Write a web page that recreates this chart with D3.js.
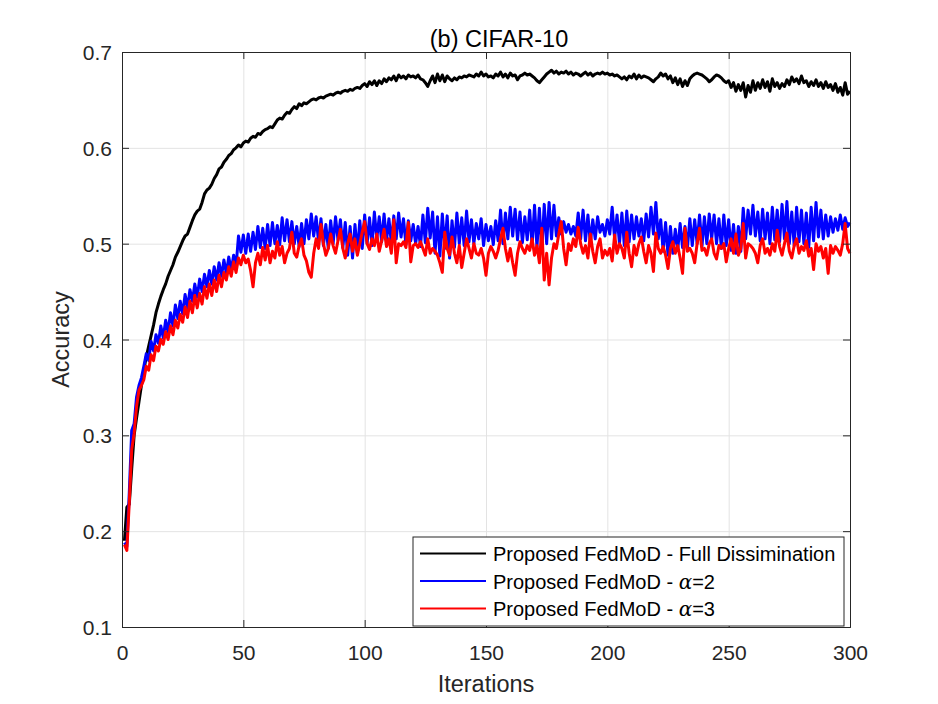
<!DOCTYPE html>
<html>
<head>
<meta charset="utf-8">
<script src="https://cdn.jsdelivr.net/npm/d3@7/dist/d3.min.js"></script>
<style>
  body { margin: 0; background: #fff; }
  text { font-family: "Liberation Sans", Arial, Helvetica, sans-serif; fill: #262626; }
</style>
</head>
<body>
<script>
// tick labels
const xTicks = [0, 50, 100, 150, 200, 250, 300];
const yTicks = [0.1, 0.2, 0.3, 0.4, 0.5, 0.6, 0.7];

const seriesNames = ["Proposed FedMoD - Full Dissimination", "Proposed FedMoD - ", "Proposed FedMoD - "];
const seriesAlpha = [null, "2", "3"];
const seriesColors = ["#000000", "#0000ff", "#ff0000"];

// accuracy per iteration (1..300)
const fullDiss = [
  0.190,0.225,0.228,0.265,0.300,0.318,0.335,0.352,0.368,0.382,
  0.393,0.404,0.415,0.428,0.437,0.445,0.452,0.458,0.466,0.472,
  0.478,0.486,0.491,0.497,0.503,0.508,0.510,0.517,0.524,0.530,
  0.534,0.536,0.543,0.552,0.556,0.558,0.562,0.568,0.572,0.578,
  0.580,0.585,0.588,0.592,0.594,0.598,0.600,0.603,0.601,0.605,
  0.607,0.606,0.610,0.612,0.611,0.615,0.614,0.617,0.619,0.620,
  0.622,0.621,0.625,0.629,0.631,0.630,0.634,0.637,0.636,0.640,
  0.643,0.641,0.646,0.644,0.647,0.646,0.648,0.650,0.651,0.650,
  0.652,0.653,0.652,0.654,0.655,0.656,0.655,0.657,0.658,0.657,
  0.659,0.660,0.659,0.661,0.660,0.662,0.663,0.662,0.665,0.667,
  0.664,0.669,0.666,0.670,0.665,0.670,0.667,0.672,0.669,0.673,
  0.671,0.675,0.670,0.676,0.673,0.675,0.672,0.676,0.674,0.675,
  0.673,0.676,0.672,0.671,0.668,0.664,0.670,0.675,0.668,0.677,
  0.670,0.676,0.669,0.675,0.672,0.670,0.673,0.671,0.674,0.673,
  0.675,0.674,0.676,0.675,0.674,0.677,0.675,0.679,0.675,0.677,
  0.674,0.675,0.673,0.677,0.675,0.679,0.674,0.677,0.673,0.678,
  0.675,0.676,0.671,0.675,0.676,0.678,0.676,0.677,0.675,0.673,
  0.670,0.668,0.671,0.674,0.677,0.679,0.681,0.678,0.680,0.677,
  0.679,0.678,0.680,0.677,0.679,0.676,0.678,0.677,0.675,0.677,
  0.679,0.676,0.678,0.675,0.677,0.678,0.677,0.679,0.677,0.678,
  0.676,0.677,0.675,0.676,0.674,0.672,0.674,0.671,0.675,0.673,
  0.677,0.672,0.676,0.673,0.675,0.674,0.673,0.671,0.669,0.672,
  0.674,0.678,0.675,0.677,0.672,0.675,0.668,0.673,0.666,0.672,
  0.664,0.670,0.665,0.672,0.675,0.677,0.678,0.677,0.676,0.674,
  0.672,0.669,0.671,0.674,0.676,0.675,0.673,0.670,0.668,0.670,
  0.663,0.668,0.659,0.666,0.660,0.668,0.653,0.665,0.658,0.670,
  0.660,0.668,0.662,0.671,0.663,0.669,0.659,0.672,0.664,0.668,
  0.662,0.667,0.664,0.671,0.666,0.674,0.669,0.672,0.667,0.675,
  0.668,0.670,0.664,0.669,0.665,0.671,0.664,0.668,0.662,0.669,
  0.663,0.666,0.660,0.667,0.658,0.663,0.655,0.668,0.656,0.659
];

const alpha2 = [
  0.188,0.184,0.240,0.305,0.312,0.340,0.352,0.360,0.372,0.385,
  0.378,0.398,0.388,0.405,0.396,0.414,0.402,0.420,0.408,0.428,
  0.414,0.436,0.422,0.440,0.427,0.447,0.433,0.452,0.440,0.458,
  0.444,0.463,0.450,0.468,0.455,0.472,0.458,0.476,0.462,0.480,
  0.466,0.483,0.469,0.486,0.472,0.488,0.476,0.508,0.491,0.509,
  0.490,0.510,0.492,0.512,0.494,0.518,0.496,0.516,0.495,0.520,
  0.498,0.522,0.500,0.519,0.499,0.527,0.503,0.525,0.502,0.523,
  0.500,0.518,0.497,0.521,0.500,0.525,0.505,0.531,0.508,0.528,
  0.502,0.526,0.498,0.520,0.495,0.524,0.500,0.528,0.504,0.525,
  0.496,0.522,0.488,0.518,0.485,0.520,0.490,0.524,0.495,0.530,
  0.500,0.527,0.498,0.533,0.505,0.528,0.502,0.531,0.503,0.526,
  0.500,0.529,0.505,0.532,0.507,0.526,0.499,0.524,0.503,0.520,
  0.500,0.518,0.497,0.530,0.501,0.537,0.506,0.533,0.490,0.528,
  0.487,0.531,0.495,0.529,0.485,0.524,0.496,0.532,0.500,0.527,
  0.498,0.534,0.502,0.525,0.500,0.521,0.505,0.526,0.498,0.520,
  0.503,0.518,0.499,0.524,0.503,0.535,0.500,0.532,0.505,0.538,
  0.508,0.536,0.504,0.533,0.501,0.528,0.504,0.535,0.498,0.540,
  0.496,0.537,0.493,0.541,0.500,0.543,0.505,0.540,0.508,0.527,
  0.510,0.523,0.512,0.520,0.510,0.518,0.508,0.532,0.505,0.535,
  0.503,0.530,0.500,0.525,0.505,0.528,0.512,0.520,0.508,0.525,
  0.510,0.538,0.505,0.530,0.500,0.532,0.498,0.534,0.502,0.530,
  0.505,0.528,0.508,0.526,0.503,0.531,0.507,0.538,0.510,0.543,
  0.505,0.525,0.492,0.522,0.488,0.518,0.490,0.515,0.493,0.521,
  0.496,0.518,0.495,0.526,0.498,0.525,0.500,0.530,0.497,0.528,
  0.500,0.531,0.505,0.530,0.500,0.526,0.495,0.530,0.498,0.525,
  0.493,0.520,0.490,0.518,0.492,0.537,0.505,0.535,0.510,0.540,
  0.508,0.533,0.503,0.536,0.505,0.532,0.500,0.538,0.504,0.535,
  0.502,0.541,0.505,0.544,0.500,0.533,0.498,0.538,0.502,0.535,
  0.500,0.532,0.496,0.538,0.503,0.543,0.507,0.535,0.505,0.530,
  0.508,0.528,0.512,0.526,0.514,0.530,0.515,0.527,0.518,0.522
];

const alpha3 = [
  0.186,0.180,0.230,0.285,0.302,0.330,0.347,0.352,0.358,0.372,
  0.368,0.384,0.378,0.393,0.388,0.400,0.395,0.408,0.400,0.414,
  0.405,0.420,0.412,0.426,0.418,0.434,0.423,0.440,0.428,0.446,
  0.433,0.448,0.437,0.455,0.443,0.458,0.446,0.462,0.450,0.467,
  0.455,0.470,0.462,0.476,0.466,0.481,0.470,0.485,0.478,0.488,
  0.480,0.484,0.472,0.455,0.480,0.490,0.478,0.496,0.483,0.498,
  0.480,0.492,0.485,0.502,0.488,0.497,0.480,0.490,0.495,0.512,
  0.490,0.486,0.498,0.505,0.488,0.482,0.470,0.465,0.490,0.505,
  0.495,0.520,0.500,0.488,0.495,0.510,0.498,0.490,0.503,0.515,
  0.495,0.485,0.500,0.510,0.492,0.505,0.488,0.500,0.512,0.523,
  0.500,0.494,0.505,0.498,0.510,0.492,0.503,0.515,0.497,0.505,
  0.490,0.525,0.480,0.500,0.498,0.502,0.496,0.522,0.481,0.498,
  0.500,0.496,0.502,0.495,0.488,0.505,0.490,0.495,0.492,0.488,
  0.480,0.470,0.512,0.495,0.488,0.507,0.490,0.480,0.498,0.475,
  0.490,0.505,0.495,0.485,0.500,0.490,0.488,0.495,0.485,0.467,
  0.490,0.497,0.492,0.485,0.493,0.505,0.516,0.495,0.482,0.495,
  0.480,0.467,0.490,0.502,0.495,0.490,0.498,0.493,0.505,0.488,
  0.498,0.480,0.516,0.462,0.490,0.457,0.485,0.500,0.495,0.510,
  0.523,0.495,0.478,0.500,0.493,0.505,0.497,0.517,0.500,0.490,
  0.498,0.485,0.510,0.492,0.480,0.497,0.505,0.485,0.493,0.488,
  0.495,0.482,0.509,0.490,0.500,0.495,0.485,0.512,0.490,0.476,
  0.498,0.488,0.500,0.507,0.492,0.480,0.498,0.490,0.471,0.511,
  0.495,0.490,0.497,0.488,0.474,0.495,0.502,0.490,0.498,0.485,
  0.469,0.516,0.492,0.495,0.490,0.480,0.500,0.516,0.493,0.495,
  0.488,0.500,0.505,0.490,0.484,0.498,0.495,0.500,0.481,0.495,
  0.505,0.490,0.510,0.488,0.495,0.521,0.485,0.500,0.498,0.495,
  0.490,0.480,0.498,0.505,0.490,0.495,0.488,0.500,0.492,0.514,
  0.497,0.488,0.500,0.511,0.492,0.485,0.498,0.505,0.490,0.497,
  0.493,0.503,0.487,0.495,0.473,0.500,0.492,0.497,0.485,0.495,
  0.469,0.498,0.490,0.497,0.493,0.488,0.500,0.521,0.495,0.490
];

init();

function init() {
  let width = 938,
      height = 704,
      margin = {l: 122, r: 88, t: 52, b: 77},
      w = width - margin.l - margin.r,
      h = height - margin.t - margin.b;

  let svg = d3.select("body")
              .append("svg")
              .attr("width", width)
              .attr("height", height);

  let g = svg.append("g")
             .attr("transform", `translate(${margin.l},${margin.t})`);

  let x = d3.scaleLinear().domain([0, 300]).range([0, w]);
  let y = d3.scaleLinear().domain([0.1, 0.7]).range([h, 0]);

  // grid
  g.append("g")
   .attr("transform", `translate(0,${h})`)
   .call(d3.axisBottom(x).tickValues(xTicks).tickSize(-h).tickFormat(""))
   .call(a => a.select(".domain").remove())
   .selectAll("line").attr("stroke", "#e3e3e3");

  g.append("g")
   .call(d3.axisLeft(y).tickValues(yTicks).tickSize(-w).tickFormat(""))
   .call(a => a.select(".domain").remove())
   .selectAll("line").attr("stroke", "#e3e3e3");

  // lines
  let line = d3.line()
               .x((d, i) => x(i + 1))
               .y(d => y(d));

  [fullDiss, alpha2, alpha3].forEach((s, k) => {
    g.append("path")
     .datum(s)
     .attr("fill", "none")
     .attr("stroke", seriesColors[k])
     .attr("stroke-width", 3)
     .attr("stroke-linejoin", "round")
     .attr("d", line);
  });

  // axes, matlab style ticks inside on all four sides
  let tl = 7;
  let xAx = g.append("g")
             .attr("transform", `translate(0,${h})`)
             .call(d3.axisBottom(x).tickValues(xTicks).tickSize(-tl).tickPadding(0));
  xAx.selectAll("text")
     .attr("y", 33).attr("dy", 0)
     .style("font-size", "21px");

  let yAx = g.append("g")
             .call(d3.axisLeft(y).tickValues(yTicks).tickSize(-tl).tickFormat(d3.format(".1f")));
  yAx.selectAll("text")
     .attr("x", -10).attr("dy", "0.36em")
     .style("font-size", "21px");

  g.append("g")
   .call(d3.axisTop(x).tickValues(xTicks).tickSize(-tl).tickFormat(""));
  g.append("g")
   .attr("transform", `translate(${w},0)`)
   .call(d3.axisRight(y).tickValues(yTicks).tickSize(-tl).tickFormat(""));

  g.selectAll(".domain, .tick line")
   .filter(function() { return d3.select(this).attr("stroke") != "#e3e3e3"; })
   .attr("stroke", "#262626");

  // labels
  svg.append("text")
     .attr("x", 499).attr("y", 47)
     .attr("text-anchor", "middle")
     .style("font-size", "23.5px")
     .style("fill", "#000")
     .text("(b) CIFAR-10");

  svg.append("text")
     .attr("x", margin.l + w / 2).attr("y", 692)
     .attr("text-anchor", "middle")
     .style("font-size", "23.5px")
     .text("Iterations");

  svg.append("text")
     .attr("transform", `translate(69,${margin.t + h / 2}) rotate(-90)`)
     .attr("text-anchor", "middle")
     .style("font-size", "23.5px")
     .text("Accuracy");

  // legend
  let lg = svg.append("g").attr("transform", "translate(413,537)");
  lg.append("rect")
    .attr("width", 431).attr("height", 89)
    .attr("fill", "#fff")
    .attr("stroke", "#262626")
    .attr("stroke-width", 1);

  seriesNames.forEach((name, k) => {
    let yy = 16.5 + k * 27.5;
    lg.append("line")
      .attr("x1", 7).attr("x2", 73)
      .attr("y1", yy).attr("y2", yy)
      .attr("stroke", seriesColors[k])
      .attr("stroke-width", 2);
    let t = lg.append("text")
              .attr("x", 80).attr("y", yy + 7.5)
              .style("font-size", "20px")
              .style("fill", "#000")
              .text(name);
    if (seriesAlpha[k]) {
      t.append("tspan").style("font-style", "italic").style("font-family", "'DejaVu Serif', serif").text("\u03b1");
      t.append("tspan").text("=" + seriesAlpha[k]);
    }
  });
}
</script>
</body>
</html>
